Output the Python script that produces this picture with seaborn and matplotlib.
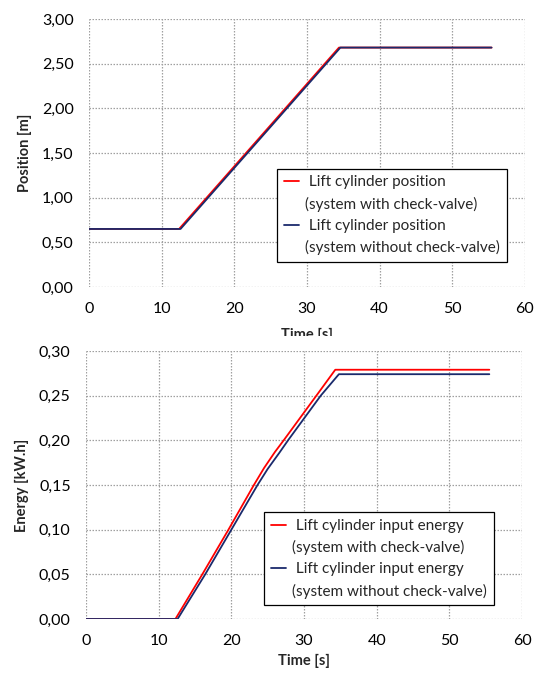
import matplotlib
matplotlib.use("Agg")
import matplotlib.pyplot as plt
from matplotlib.lines import Line2D
from matplotlib.patches import Rectangle
import seaborn as sns

# Lift cylinder position [m] vs time [s]
pos_t_check = [0, 12.4, 34.4, 55.4]
pos_check = [0.65, 0.65, 2.68, 2.68]
pos_t_nocheck = [0, 12.6, 34.6, 55.4]
pos_nocheck = [0.65, 0.65, 2.68, 2.68]

# Lift cylinder input energy [kW.h] vs time [s]
en_t_check = [0, 12.3, 16.0, 19.6, 23.1, 24.5, 26.0, 27.2, 31.7, 34.3, 55.5]
en_check = [0, 0, 0.05, 0.10, 0.15, 0.169, 0.187, 0.20, 0.25, 0.279, 0.279]
en_t_nocheck = [0, 12.6, 16.4, 20.0, 23.6, 25.0, 26.6, 27.8, 32.3, 34.8, 55.5]
en_nocheck = [0, 0, 0.05, 0.10, 0.15, 0.168, 0.186, 0.20, 0.25, 0.274, 0.274]

x_ticks = [0, 10, 20, 30, 40, 50, 60]
pos_ticks = [0, 0.5, 1.0, 1.5, 2.0, 2.5, 3.0]
en_ticks = [0, 0.05, 0.10, 0.15, 0.20, 0.25, 0.30]

RED = "#FF0000"
NAVY = "#1A2A6C"

sns.set_style("white")
plt.rcParams["font.family"] = ["Lato", "DejaVu Sans"]

fig = plt.figure(figsize=(5.39, 6.73), dpi=100)
ax1 = fig.add_axes([0.1651, 0.5735, 0.8089, 0.3983])
ax2 = fig.add_axes([0.1596, 0.0802, 0.8089, 0.3983])


def style_axes(ax, yticks, ylabel, ydec, xpad):
    ax.set_xlim(0, 60)
    ax.set_ylim(yticks[0], yticks[-1])
    ax.set_xticks(x_ticks)
    ax.set_yticks(yticks)
    ax.set_xticklabels([str(v) for v in x_ticks])
    ax.set_yticklabels([f"{v:.{ydec}f}".replace(".", ",") for v in yticks])
    for s in ax.spines.values():
        s.set_visible(False)
    ax.grid(True, color="#A0A0A0", linestyle=(0, (1.2, 1.2)), linewidth=0.9)
    ax.tick_params(axis="both", length=4, width=0.9, color="#A0A0A0",
                   labelsize=11.5, pad=7, labelcolor="#000000")
    ax.set_xlabel("Time [s]", fontsize=10.5, fontweight="bold", labelpad=xpad)
    ax.set_ylabel(ylabel, fontsize=10.5, fontweight="bold", labelpad=7)


def make_legend(ax, first, loc_box):
    handles = [
        Line2D([], [], color=RED, linewidth=1.3),
        Line2D([], [], color="none"),
        Line2D([], [], color=NAVY, linewidth=1.3),
        Line2D([], [], color="none"),
    ]
    labels = [f" {first}", "(system with check-valve)",
              f" {first}", "(system without check-valve)"]
    leg = ax.legend(handles, labels, loc="upper left", bbox_to_anchor=loc_box,
                    frameon=True, fancybox=False, framealpha=1,
                    edgecolor="#000000", fontsize=11, handlelength=1.0,
                    handletextpad=0.4, labelspacing=0.47, borderpad=0.45,
                    borderaxespad=0)
    leg.get_frame().set_linewidth(0.9)
    return leg


# Position chart
sns.lineplot(x=pos_t_check, y=pos_check, color=RED, linewidth=1.3, ax=ax1)
sns.lineplot(x=pos_t_nocheck, y=pos_nocheck, color=NAVY, linewidth=1.3, ax=ax1)
style_axes(ax1, pos_ticks, "Position [m]", 2, 8.5)
make_legend(ax1, "Lift cylinder position", (0.431, 0.442))

# Energy chart
sns.lineplot(x=en_t_check, y=en_check, color=RED, linewidth=1.3, ax=ax2)
sns.lineplot(x=en_t_nocheck, y=en_nocheck, color=NAVY, linewidth=1.3, ax=ax2)
style_axes(ax2, en_ticks, "Energy [kW.h]", 2, 4)
make_legend(ax2, "Lift cylinder input energy", (0.408, 0.399))

# The lower panel's white area overlaps the bottom of the upper x label
fig.patches.append(Rectangle((0, 1 - 345 / 673), 1, 9 / 673,
                             transform=fig.transFigure, facecolor="white",
                             edgecolor="none", zorder=10))

fig.savefig("out.png", dpi=100)
